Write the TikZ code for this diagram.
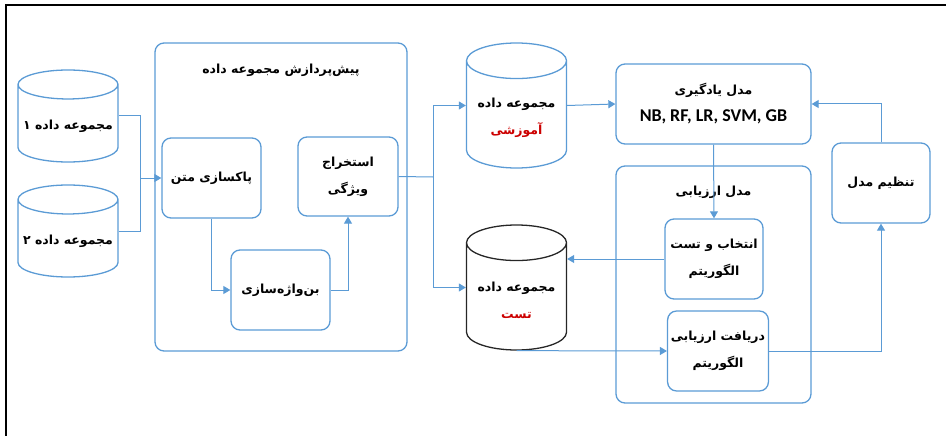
\documentclass[tikz,border=0pt]{standalone}
\usepackage{fontspec}
\usepackage{xcolor}
\usepackage{tikz}
\usetikzlibrary{arrows, arrows.meta, shapes.geometric}
\TeXXeTstate=1
\newfontfamily\farsifont[Script=Arabic]{DejaVu Sans}
\setsansfont{Carlito}
\newcommand{\fatext}[1]{{\farsifont\bfseries\beginR #1\endR}}
\definecolor{boxblue}{HTML}{5B9BD5}
\definecolor{labelred}{HTML}{CC0000}

\begin{document}
\begin{tikzpicture}[x=1pt,y=-1pt,
  box/.style={draw=boxblue,line width=1.3pt,rounded corners=9pt,align=center,
    font=\fontsize{12.5}{27}\selectfont},
  dataset/.style={cylinder,shape border rotate=90,draw=boxblue,line width=1.3pt,
    minimum width=100pt,align=center,anchor=shape center,
    font=\fontsize{12.5}{27}\selectfont},
  link/.style={boxblue,line width=1pt},
  linkarrow/.style={boxblue,line width=1pt,-{Triangle[length=7pt,width=8pt]}}]
\useasboundingbox (0,0) rectangle (946,436);
\draw[line width=2pt] (6,436) -- (6,5) -- (946,5);

\node[dataset,aspect=0.3,minimum height=92pt] (ds1) at (68,116) {\fatext{مجموعه داده ۱}};
\node[dataset,aspect=0.3,minimum height=92pt] (ds2) at (68,231) {\fatext{مجموعه داده ۲}};

\node[box,minimum width=252pt,minimum height=308pt] (prep) at (281,197) {};
\node[font=\fontsize{12.5}{14}\selectfont] (preptitle) at (281,70) {\fatext{پیش‌پردازش مجموعه داده}};
\node[box,minimum width=99pt,minimum height=80pt] (clean) at (211.5,178) {\fatext{پاکسازی متن}};
\node[box,minimum width=100pt,minimum height=79pt] (feat) at (348,176.5) {\fatext{استخراج}\\\fatext{ویژگی}};
\node[box,minimum width=99pt,minimum height=80pt] (stem) at (280.5,290) {\fatext{بن‌واژه‌سازی}};

\node[dataset,aspect=0.42,minimum height=125pt] (train) at (516.5,105.5) {\fatext{مجموعه داده}\\\textcolor{labelred}{\fatext{آموزشی}}};
\node[dataset,aspect=0.42,minimum height=125pt,draw=black!85] (test) at (516.5,287.5) {\fatext{مجموعه داده}\\\textcolor{labelred}{\fatext{تست}}};

\node[box,minimum width=195pt,minimum height=80pt] (learn) at (713.5,104) {\fatext{مدل یادگیری}\\{\sffamily\bfseries\fontsize{18}{27}\selectfont NB, RF, LR, SVM, GB}};
\node[box,minimum width=195pt,minimum height=237pt] (evalbox) at (713.5,284.5) {};
\node[font=\fontsize{12.5}{14}\selectfont] (evaltitle) at (713.5,192) {\fatext{مدل ارزیابی}};
\node[box,minimum width=98pt,minimum height=80pt] (select) at (714,259) {\fatext{انتخاب و تست}\\\fatext{الگوریتم}};
\node[box,minimum width=98pt,minimum height=80pt] (recv) at (718,351) {\fatext{دریافت ارزیابی}\\\fatext{الگوریتم}};
\node[box,minimum width=98pt,minimum height=80pt] (tune) at (881,183) {\fatext{تنظیم مدل}};

\coordinate (join) at (140,178);
\coordinate (split) at (433,177);
\draw[link] (ds1.shape center -| ds1.east) -| (join);
\draw[link] (ds2.shape center -| ds2.east) -| (join);
\draw[linkarrow] (join) -- (clean.west);
\draw[linkarrow] (clean.south) |- (stem.west);
\draw[linkarrow] (stem.east) -| (feat.south);
\draw[link] (feat.east) -- (split);
\draw[linkarrow] (split) |- (train.shape center -| train.west);
\draw[linkarrow] (split) |- (test.shape center -| test.west);
\draw[linkarrow] (train.shape center -| train.east) -- (learn.west);
\draw[linkarrow] (learn.south) -- (select.north);
\draw[linkarrow] (select.west) -- (select.west -| test.east);
\draw[linkarrow] (test.south) -- (recv.west);
\draw[linkarrow] (recv.east) -| (tune.south);
\draw[linkarrow] (tune.north) |- (learn.east);
\end{tikzpicture}
\end{document}
